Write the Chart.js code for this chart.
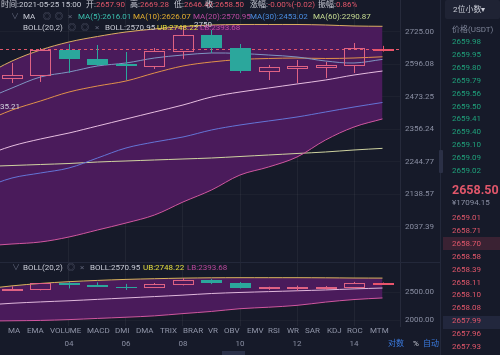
<!DOCTYPE html>
<html>
<head>
<meta charset="utf-8">
<script src="https://cdn.jsdelivr.net/npm/chart.js@4.4.1/dist/chart.umd.min.js"></script>
<style>
  html, body { margin: 0; padding: 0; background: #161a29; }
  body { width: 500px; height: 355px; overflow: hidden; position: relative;
         font-family: Roboto, "Noto Sans CJK SC", sans-serif; font-size: 8px; color: #8a8fa3; }
  canvas { position: absolute; left: 0; }
  #mainChart { top: 0; }
  #subChart { top: 262px; }
  .t { position: absolute; white-space: nowrap; line-height: 10px; height: 10px; }
  .w { color: #c9ccd6; }
  .r { color: #e0566a; }
  .g { color: #1fa07a; }
  .ic { color: #5d6276; }
  .blue { color: #3b7be0; }
  .bar { position: absolute; }
</style>
</head>
<body>
<canvas id="mainChart" width="440" height="262"></canvas>
<canvas id="subChart" width="440" height="93"></canvas>

<!-- separators -->
<div class="bar" style="left:0;top:262px;width:440px;height:1px;background:#23283a"></div>
<div class="bar" style="left:440px;top:0;width:1px;height:355px;background:#23283a"></div>
<div class="bar" style="left:439px;top:150px;width:4px;height:23px;background:#2b3046;border-radius:1px"></div>
<div class="bar" style="left:222px;top:351px;width:23px;height:4px;background:#2b3149"></div>

<!-- header rows -->
<span class="t w" style="left:1px;top:0px">时间:2021-05-25 15:00</span>
<span class="t w" style="left:86px;top:0px">开:<span class="r">2657.90</span></span>
<span class="t w" style="left:130px;top:0px">高:<span class="r">2669.28</span></span>
<span class="t w" style="left:174px;top:0px">低:<span class="r">2646.40</span></span>
<span class="t w" style="left:205px;top:0px">收:<span class="r">2658.50</span></span>
<span class="t w" style="left:250px;top:0px">涨幅:<span class="r">-0.00%(-0.02)</span></span>
<span class="t w" style="left:318px;top:0px">振幅:<span class="r">0.86%</span></span>

<span class="t ic" style="left:11px;top:12px">∨</span>
<span class="t w" style="left:23px;top:12px">MA</span>
<span class="t ic" style="left:43px;top:12px">◎</span>
<span class="t ic" style="left:55px;top:12px">◎</span>
<span class="t ic" style="left:68px;top:12px">×</span>
<span class="t" style="left:78px;top:12px;color:#3bbfae">MA(5):2616.01</span>
<span class="t" style="left:133px;top:12px;color:#e3ae2f">MA(10):2626.07</span>
<span class="t" style="left:193px;top:12px;color:#b94aa0">MA(20):2570.95</span>
<span class="t" style="left:250px;top:12px;color:#4a8de0">MA(30):2453.02</span>
<span class="t" style="left:313px;top:12px;color:#c6dc92">MA(60):2290.87</span>

<span class="t w" style="left:23px;top:23px">BOLL(20,2)</span>
<span class="t ic" style="left:68px;top:23px">◎</span>
<span class="t ic" style="left:81px;top:23px">◎</span>
<span class="t ic" style="left:95px;top:23px">×</span>
<span class="t w" style="left:105px;top:23px">BOLL:2570.95</span>
<span class="t" style="left:157px;top:23px;color:#e6df3e">UB:2748.22</span>
<span class="t" style="left:200px;top:23px;color:#c04ca0">LB:2393.68</span>

<!-- sub chart header -->
<span class="t ic" style="left:12px;top:263px">∨</span>
<span class="t w" style="left:23px;top:263px">BOLL(20,2)</span>
<span class="t ic" style="left:67px;top:263px">◎</span>
<span class="t ic" style="left:80px;top:263px">×</span>
<span class="t w" style="left:90px;top:263px">BOLL:2570.95</span>
<span class="t" style="left:143px;top:263px;color:#e6df3e">UB:2748.22</span>
<span class="t" style="left:187px;top:263px;color:#b8489a">LB:2393.68</span>

<!-- bottom right -->
<span class="t blue" style="left:388px;top:339px">对数</span>
<span class="t w" style="left:413px;top:339px">%</span>
<span class="t blue" style="left:423px;top:339px">自动</span>

<!-- order book header -->
<div class="bar" style="left:445px;top:0;width:55px;height:19px;background:#1f2334;border-radius:2px"></div>
<span class="t w" style="left:453px;top:5px">2位小数▾</span>
<span class="t" style="left:452px;top:25px;color:#7d8397">价格(USDT)</span>
<div class="bar" style="left:443px;top:237px;width:57px;height:13px;background:#3a2233"></div>
<div class="bar" style="left:443px;top:316px;width:57px;height:13px;background:#22273d"></div>
<span class="t r" style="left:452px;top:183px;font-size:12.5px;font-weight:bold;line-height:14px;height:14px">2658.50</span>
<span class="t" style="left:452px;top:198px;color:#8a8fa3">¥17094.15</span>
<div id="book"></div>

<script>
// ---------- data ----------
const days = ['02', '03', '04', '05', '06', '07', '08', '09', '10', '11', '12', '13', '14', '15'];
const dayTicks = [2, 4, 6, 8, 10, 12];

const opens  = [2544.3, 2555.7, 2652.8, 2617.5, 2598.0, 2590.3, 2648.9, 2712.8, 2660.7, 2571.0, 2582.6, 2586.4, 2594.1, 2657.90];
const highs  = [2601.9, 2660.7, 2676.7, 2672.7, 2644.9, 2660.7, 2750.0, 2733.1, 2676.7, 2594.1, 2613.6, 2605.8, 2680.7, 2669.28];
const lows   = [2525.4, 2529.2, 2563.4, 2590.3, 2536.7, 2578.7, 2617.5, 2641.0, 2563.4, 2536.7, 2525.4, 2544.3, 2563.4, 2646.40];
const closes = [2555.7, 2652.8, 2617.5, 2594.1, 2590.3, 2648.9, 2712.8, 2660.7, 2571.0, 2586.4, 2590.3, 2594.1, 2660.7, 2658.50];

// indicator lines start one day before the first visible candle
const bollUp  = [2551.9, 2609.6, 2652.8, 2684.7, 2706.8, 2725.0, 2737.2, 2747.5, 2753.6, 2755.7, 2755.7, 2755.7, 2753.6, 2749.5, 2748.22];
const bollLow = [1980.4, 1986.3, 1992.3, 2007.2, 2028.2, 2049.5, 2074.1, 2114.7, 2152.9, 2201.6, 2228.0, 2261.5, 2319.6, 2365.0, 2393.68];
const ma5  = [2462.2, 2506.6, 2548.1, 2567.2, 2590.3, 2601.9, 2621.3, 2633.1, 2641.0, 2639.0, 2633.1, 2625.3, 2609.6, 2601.9, 2616.01];
const ma10 = [2382.7, 2425.7, 2458.5, 2491.7, 2514.1, 2532.9, 2563.4, 2590.3, 2605.8, 2615.5, 2619.4, 2621.3, 2619.4, 2621.3, 2626.07];
const ma20 = [2264.9, 2298.9, 2323.1, 2343.9, 2368.5, 2393.4, 2418.5, 2443.9, 2473.2, 2491.7, 2506.6, 2521.7, 2536.7, 2555.7, 2570.95];
const ma30 = [2159.3, 2191.8, 2208.2, 2224.8, 2258.2, 2292.1, 2312.7, 2330.0, 2354.5, 2372.1, 2386.3, 2400.5, 2418.5, 2436.6, 2453.02];
const ma60 = [2229.7, 2233.0, 2236.4, 2239.7, 2244.7, 2248.1, 2251.5, 2254.8, 2258.2, 2263.2, 2268.3, 2273.4, 2278.5, 2285.3, 2290.87];

const priceTicks = [2725.00, 2596.08, 2473.25, 2356.24, 2244.77, 2138.57, 2037.39];
const subTicks = [2500, 2000];
const lastPrice = 2658.50;
const maxMark = 2750;
const minMark = 2435.21;

const asks = ['2659.98', '2659.95', '2659.80', '2659.79', '2659.56', '2659.50', '2659.41', '2659.40', '2659.10', '2659.09', '2659.02'];
const bids = ['2659.01', '2658.71', '2658.70', '2658.58', '2658.39', '2658.11', '2658.10', '2658.08', '2657.99', '2657.96', '2657.93'];
const tabs = ['MA', 'EMA', 'VOLUME', 'MACD', 'DMI', 'DMA', 'TRIX', 'BRAR', 'VR', 'OBV', 'EMV', 'RSI', 'WR', 'SAR', 'KDJ', 'ROC', 'MTM'];
const tabLeft = [8, 27, 50, 87, 115, 136, 160, 183, 208, 224, 247, 268, 287, 305, 327, 347, 370];

const UP = '#df6283';
const DOWN = '#2ba79c';
const PURPLE = '#4a1b5b';

// ---------- html text ----------
const book = document.getElementById('book');
asks.forEach((p, i) => {
    book.insertAdjacentHTML('beforeend', `<span class="t g" style="left:452px;top:${37 + i * 12.9}px">${p}</span>`);
});
bids.forEach((p, i) => {
    book.insertAdjacentHTML('beforeend', `<span class="t r" style="left:452px;top:${213 + i * 12.9}px">${p}</span>`);
});
tabs.forEach((name, i) => {
    book.insertAdjacentHTML('beforeend', `<span class="t" style="left:${tabLeft[i]}px;top:326px;color:#9095a8">${name}</span>`);
});

// ---------- charts ----------
Chart.defaults.font.family = 'Roboto';
Chart.defaults.font.size = 8;

const pts = arr => arr.map((v, i) => ({ x: i - 1, y: v }));

function lineSet(label, arr, color, extra) {
    return Object.assign({
        label, data: pts(arr), borderColor: color, borderWidth: 1,
        pointRadius: 0, tension: 0.35, fill: false
    }, extra || {});
}

const candlePlugin = {
    id: 'candles',
    afterDatasetsDraw(chart, args, opts) {
        const { ctx, chartArea, scales: { x, y } } = chart;
        ctx.save();
        ctx.beginPath();
        ctx.rect(chartArea.left, chartArea.top, chartArea.width, chartArea.height);
        ctx.clip();

        if (opts.marks) {
            const yl = Math.round(y.getPixelForValue(lastPrice)) + 0.5;
            ctx.strokeStyle = '#e0566a';
            ctx.lineWidth = 1;
            ctx.setLineDash([3, 3]);
            ctx.beginPath();
            ctx.moveTo(chartArea.left, yl);
            ctx.lineTo(chartArea.right, yl);
            ctx.stroke();
            ctx.setLineDash([]);
        }

        const w = Math.round((x.getPixelForValue(1) - x.getPixelForValue(0)) * 0.74);
        opens.forEach((o, i) => {
            const c = closes[i];
            const up = c >= o;
            const cx = Math.round(x.getPixelForValue(i)) + 0.5;
            const yo = y.getPixelForValue(o), yc = y.getPixelForValue(c);
            const yh = y.getPixelForValue(highs[i]), ylo = y.getPixelForValue(lows[i]);
            const top = Math.round(Math.min(yo, yc)), bot = Math.round(Math.max(yo, yc));
            const col = up ? (i === opens.length - 1 ? '#e9546b' : UP) : DOWN;
            ctx.strokeStyle = col;
            ctx.fillStyle = col;
            ctx.lineWidth = 1;
            ctx.beginPath();
            ctx.moveTo(cx, yh);
            ctx.lineTo(cx, top);
            ctx.moveTo(cx, bot);
            ctx.lineTo(cx, ylo);
            ctx.stroke();
            const left = Math.round(cx - w / 2);
            if (up) {
                ctx.strokeRect(left + 0.5, top + 0.5, w - 1, Math.max(bot - top, 1));
            } else {
                ctx.fillRect(left, top, w, Math.max(bot - top, 1));
            }
        });

        if (opts.marks) {
            ctx.fillStyle = '#d3d6df';
            ctx.textBaseline = 'middle';
            ctx.font = '8px Roboto';
            ctx.textAlign = 'left';
            ctx.fillText(String(maxMark), x.getPixelForValue(6) + 11, y.getPixelForValue(maxMark) - 1);
            ctx.textAlign = 'right';
            ctx.fillText(minMark.toFixed(2), 20, y.getPixelForValue(minMark));
        }
        ctx.restore();
    }
};

function xScale(showLabels) {
    return {
        type: 'linear', min: -0.421, max: 13.614, offset: false,
        afterBuildTicks: s => { s.ticks = dayTicks.map(v => ({ value: v })); },
        grid: { color: 'rgba(255,255,255,0.05)', drawTicks: false },
        border: { display: false },
        ticks: {
            display: showLabels, color: '#8a8fa3', padding: 13,
            autoSkip: false, maxRotation: 0, callback: v => days[v]
        },
        afterFit: s => {
            s.height = showLabels ? 29 : 0;
            s.paddingLeft = 0; s.paddingRight = 0;
        }
    };
}

function yAxis(type, min, max, ticks) {
    return {
        type, position: 'right', min, max,
        afterBuildTicks: s => { s.ticks = ticks.map(v => ({ value: v })); },
        ticks: { color: '#8a8fa3', padding: 5, autoSkip: false, callback: v => Number(v).toFixed(2) },
        grid: { color: 'rgba(255,255,255,0.03)', drawTicks: false },
        border: { display: true, color: '#262a3b' },
        afterFit: s => {
            s.width = 40;
            s.paddingTop = 0; s.paddingBottom = 0;
        }
    };
}

const baseOptions = {
    responsive: false,
    animation: false,
    events: [],
    layout: { padding: 0 },
    plugins: {
        legend: { display: false },
        tooltip: { enabled: false },
        filler: { drawTime: 'beforeDatasetsDraw' }
    }
};

new Chart(document.getElementById('mainChart'), {
    type: 'line',
    data: {
        datasets: [
            lineSet('UB', bollUp, '#dcae62', { fill: 1, backgroundColor: PURPLE }),
            lineSet('LB', bollLow, '#d0579f'),
            lineSet('MA5', ma5, '#7f95c2'),
            lineSet('MA10', ma10, '#e0914a'),
            lineSet('MA20', ma20, '#e6bde0'),
            lineSet('MA30', ma30, '#6474d6'),
            lineSet('MA60', ma60, '#cfd3a0')
        ]
    },
    options: Object.assign({}, baseOptions, {
        plugins: Object.assign({}, baseOptions.plugins, { candles: { marks: true } }),
        scales: {
            x: xScale(false),
            y: yAxis('logarithmic', 1933.7, 2858.2, priceTicks)
        }
    }),
    plugins: [candlePlugin]
});

new Chart(document.getElementById('subChart'), {
    type: 'line',
    data: {
        datasets: [
            lineSet('UB', bollUp, '#d9b45c', { fill: 1, backgroundColor: PURPLE }),
            lineSet('LB', bollLow, '#d0579f'),
            lineSet('BOLL', ma20, '#e0b8dc')
        ]
    },
    options: Object.assign({}, baseOptions, {
        plugins: Object.assign({}, baseOptions.plugins, { candles: { marks: false } }),
        scales: {
            x: xScale(true),
            y: yAxis('linear', 1892.9, 3035.7, subTicks)
        }
    }),
    plugins: [candlePlugin]
});
</script>
</body>
</html>
